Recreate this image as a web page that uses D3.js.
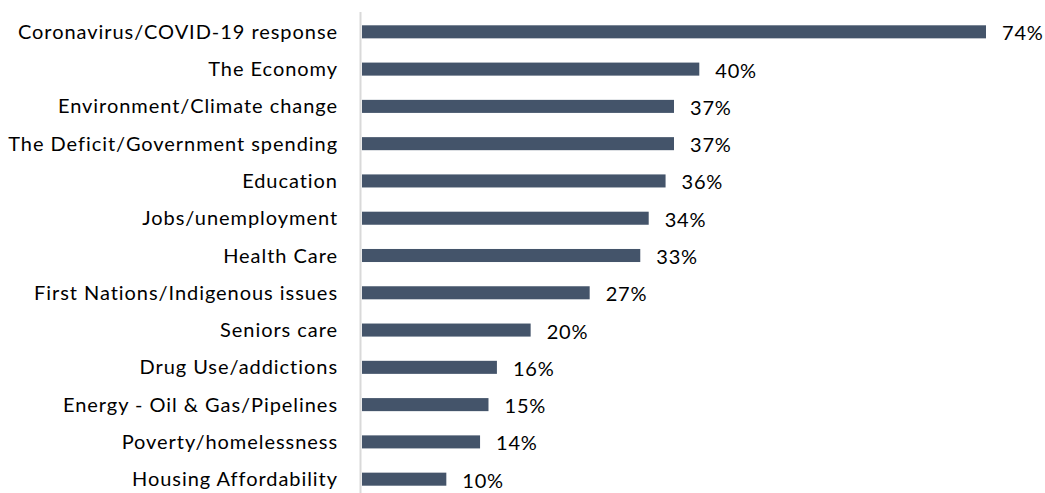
<!DOCTYPE html>
<html><head><meta charset="utf-8">
<script src="https://cdn.jsdelivr.net/npm/d3@7"></script>
<style>body{margin:0;background:#fff;} svg{display:block;}</style>
</head><body>
<svg id="c" width="1045" height="493"></svg>
<script>
const categories = ["Coronavirus/COVID-19 response","The Economy","Environment/Climate change","The Deficit/Government spending","Education","Jobs/unemployment","Health Care","First Nations/Indigenous issues","Seniors care","Drug Use/addictions","Energy - Oil & Gas/Pipelines","Poverty/homelessness","Housing Affordability"];
const values = [74,40,37,37,36,34,33,27,20,16,15,14,10];
const valueLabels = ["74%","40%","37%","37%","36%","34%","33%","27%","20%","16%","15%","14%","10%"];

const svg = d3.select("#c");
const x0 = 362;
const x = d3.scaleLinear().domain([0, 74]).range([x0, 986]);
const y = d3.scaleBand().domain(categories).range([13, 498]).paddingInner(0.65).paddingOuter(0.33);
const font = "Lato, 'Open Sans', sans-serif";

svg.append("line").attr("x1", 360.5).attr("x2", 360.5).attr("y1", 12).attr("y2", 493)
  .attr("stroke", "#d9d9d9").attr("stroke-width", 2);

svg.selectAll("rect.bar").data(categories).join("rect").attr("class","bar")
  .attr("x", x(0)).attr("y", d => y(d)).attr("height", y.bandwidth())
  .attr("width", (d,i) => x(values[i]) - x(0)).attr("fill", "#44546a");

svg.selectAll("text.cat").data(categories).join("text").attr("class","cat")
  .attr("x", 338).attr("y", d => y(d) + y.bandwidth()/2).attr("dy","0.35em")
  .attr("text-anchor","end").attr("font-family", font).attr("font-size", 20)
  .attr("letter-spacing", 0.95).attr("fill","#000")
  .text(d => d);

svg.selectAll("text.val").data(categories).join("text").attr("class","val")
  .attr("x", (d,i) => x(values[i]) + 16).attr("y", d => y(d) + y.bandwidth()/2 + 1.5).attr("dy","0.35em")
  .attr("font-family", font).attr("font-size", 20).attr("letter-spacing", 0.8).attr("fill","#000")
  .text((d,i) => valueLabels[i]);
</script>
</body></html>
